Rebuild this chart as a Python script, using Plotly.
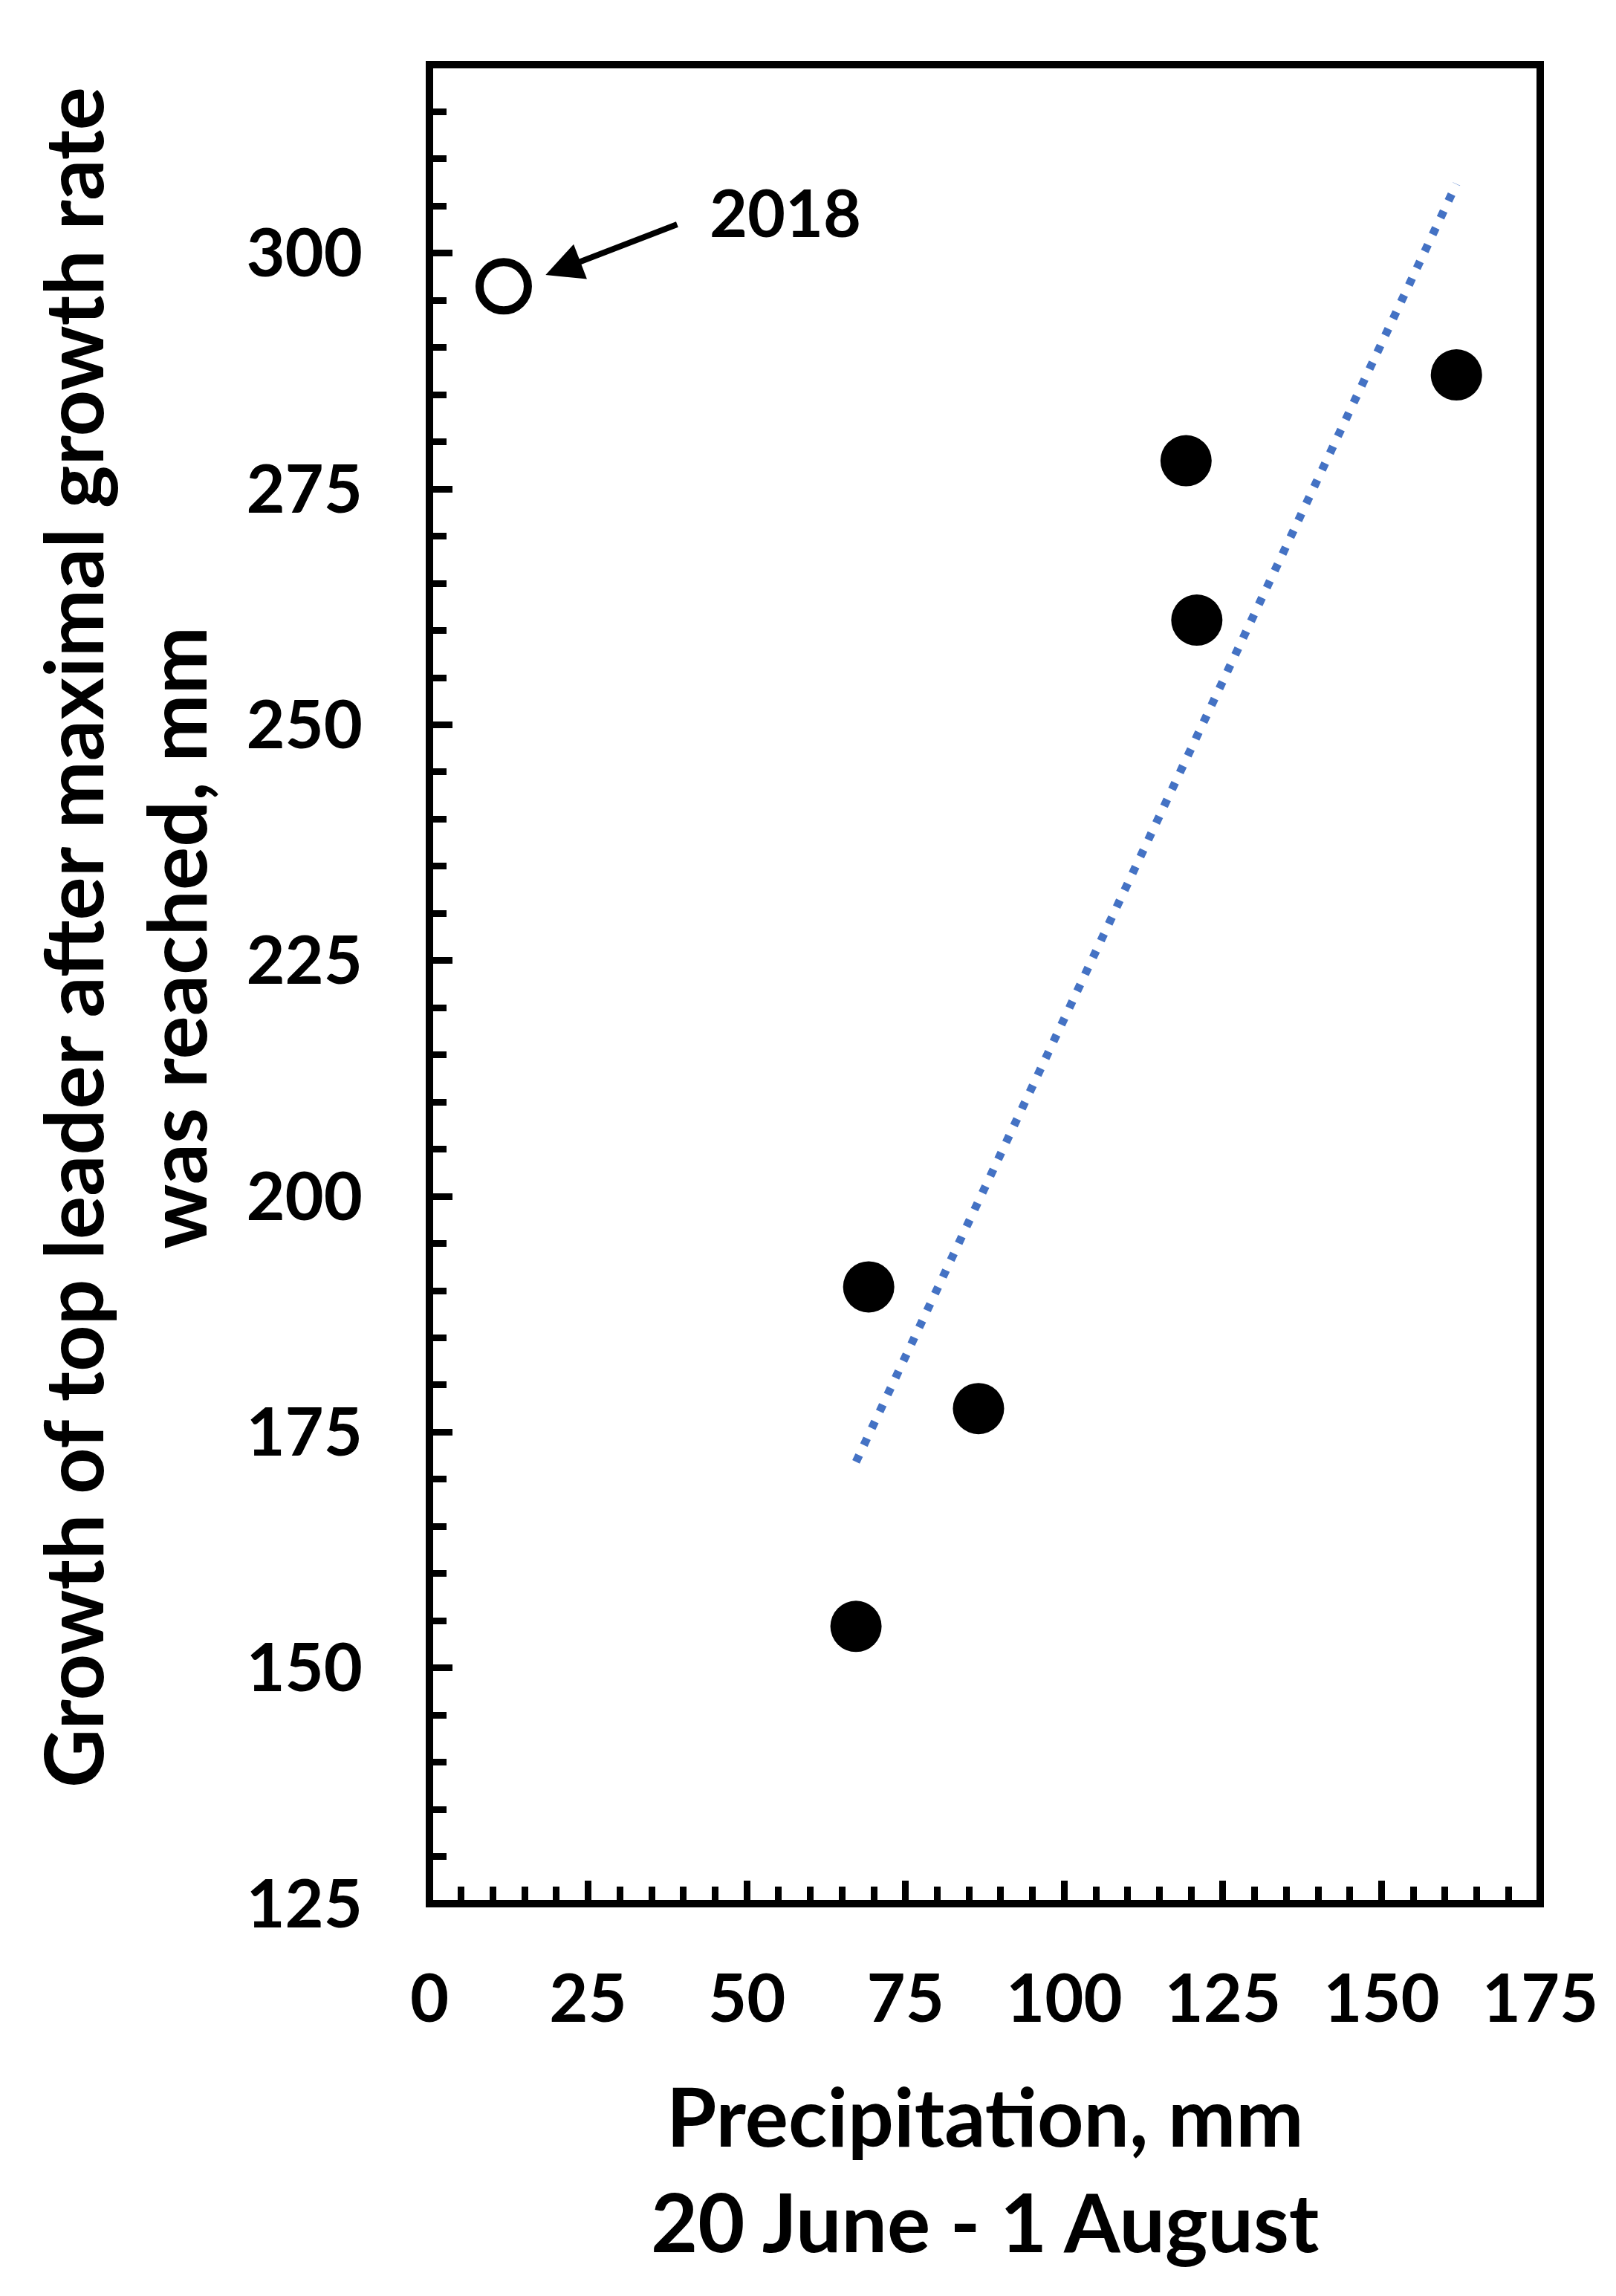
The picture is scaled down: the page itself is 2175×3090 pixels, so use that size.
import numpy as np
import plotly.graph_objects as go

# ---- data ----
precip = [69.2, 86.5, 67.2, 119.2, 120.9, 161.8]
growth = [190.4, 177.5, 154.4, 278.0, 261.1, 287.1]
precip_2018 = [11.7]
growth_2018 = [296.5]
label_2018 = "2018"
x_ticks = [0, 25, 50, 75, 100, 125, 150, 175]
y_ticks = [125, 150, 175, 200, 225, 250, 275, 300]
x_title_lines = ["Precipitation, mm", "20 June - 1 August"]
y_title_lines = ["Growth of top leader after maximal growth rate", "was reached, mm"]

FONT = "Lato"
OFF = 8                     # default body margin of the html page
W, H = 2175 - 2 * OFF, 3090 - 2 * OFF
PLOT_L, PLOT_R, PLOT_T, PLOT_B = 578, 2073, 87, 2562   # window pixel coords
L = PLOT_L - OFF
T = PLOT_T - OFF
R = W - (PLOT_R - OFF)
B = H - (PLOT_B - OFF)

# linear trend line (least squares over the filled points)
slope, intercept = np.polyfit(precip, growth, 1)
tx = [min(precip), max(precip)]
ty = [slope * v + intercept for v in tx]

fig = go.Figure()
fig.add_trace(go.Scatter(x=tx, y=ty, mode="lines",
                         line=dict(color="#4472C4", width=11, dash="10px,15px"),
                         showlegend=False, hoverinfo="skip"))
fig.add_trace(go.Scatter(x=precip, y=growth, mode="markers",
                         marker=dict(color="black", size=69, line=dict(width=0)),
                         showlegend=False))
fig.add_trace(go.Scatter(x=precip_2018, y=growth_2018, mode="markers",
                         marker=dict(color="white", size=65,
                                     line=dict(color="black", width=11)),
                         showlegend=False))

axis_common = dict(
    showgrid=False, zeroline=False, showline=False,
    ticks="inside", ticklen=31, tickwidth=9, tickcolor="black",
    tickfont=dict(family=FONT, size=90, color="black", weight="bold"),
)
fig.update_xaxes(range=[0, 175], tickvals=x_ticks, ticktext=[str(v) for v in x_ticks],
                 minor=dict(dtick=5, tick0=0, ticks="inside", ticklen=23, tickwidth=9,
                            tickcolor="black", showgrid=False),
                 ticklabelstandoff=68, **axis_common)
fig.update_yaxes(range=[125, 320], tickvals=y_ticks, ticktext=[str(v) for v in y_ticks],
                 minor=dict(dtick=5, tick0=0, ticks="inside", ticklen=23, tickwidth=9,
                            tickcolor="black", showgrid=False),
                 ticklabelstandoff=89, **axis_common)

# frame
fig.add_shape(type="rect", xref="paper", yref="paper", x0=0, x1=1, y0=0, y1=1,
              line=dict(color="black", width=10), fillcolor="rgba(0,0,0,0)", layer="above")

pw = PLOT_R - PLOT_L
ph = PLOT_B - PLOT_T

def px_to_paper_x(p):
    return (p - PLOT_L) / pw

def px_to_paper_y(p):
    return (PLOT_B - p) / ph

annotations = []
# arrow pointing to 2018 point
annotations.append(dict(x=18.3, y=297.7, ax=39.2, ay=303.1, xref="x", yref="y",
                        axref="x", ayref="y", text="", showarrow=True,
                        arrowhead=2, arrowsize=1.25, arrowwidth=8, arrowcolor="black",
                        standoff=0, startstandoff=0))
annotations.append(dict(x=56.1, y=304.4, xref="x", yref="y", text=label_2018,
                        showarrow=False, xanchor="center", yanchor="middle",
                        font=dict(family=FONT, size=88, color="black", weight="bold")))
# x title (two lines)
for txt, cy in zip(x_title_lines, [2846, 2988]):
    annotations.append(dict(x=0.5, y=px_to_paper_y(cy), xref="paper", yref="paper",
                            text=txt, showarrow=False, xanchor="center", yanchor="middle",
                            font=dict(family=FONT, size=109, color="black", weight="bold")))
# y title (two lines, rotated)
for txt, cx in zip(y_title_lines, [97, 236]):
    annotations.append(dict(x=px_to_paper_x(cx), y=px_to_paper_y(1262), xref="paper",
                            yref="paper", text=txt, textangle=-90, showarrow=False,
                            xanchor="center", yanchor="middle",
                            font=dict(family=FONT, size=109, color="black", weight="bold")))

fig.update_layout(width=W, height=H, margin=dict(l=L, r=R, t=T, b=B, autoexpand=False),
                  paper_bgcolor="white", plot_bgcolor="white",
                  annotations=annotations, showlegend=False)

fig.write_html("out.html")
